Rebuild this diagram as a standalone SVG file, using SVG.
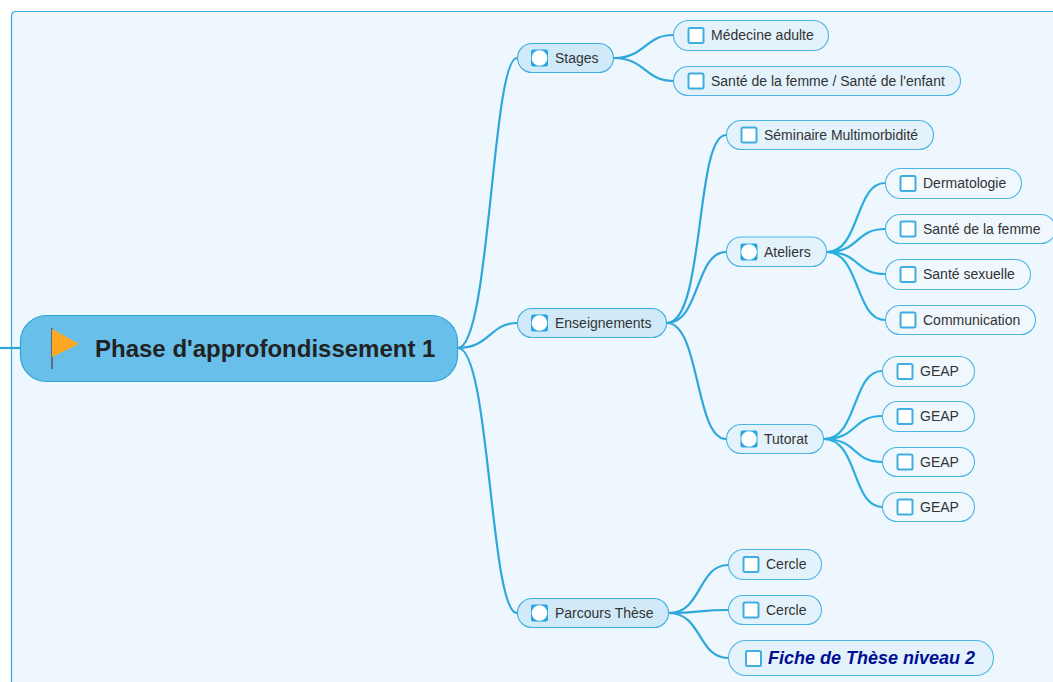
<svg xmlns="http://www.w3.org/2000/svg" width="1053" height="682" viewBox="0 0 1053 682">
<style>
text{font-family:"Liberation Sans",Arial,sans-serif;fill:#333;font-size:14px}
.c path{fill:none;stroke:#2EA6DA;stroke-width:2.2}
.c .d{stroke:#2BAEDF}
.n rect.b{fill:#E3F2FB;stroke:#4DB5E3;stroke-width:1.1}
.m rect.b{fill:#D0EAF9;stroke:#40AFE0;stroke-width:1.1}
.n.l rect.b{fill:#F0F8FE}
.box{fill:#fff;stroke:#3FAEE0;stroke-width:2}
.tsk{fill:#29A6E0}
</style>
<defs>
<g id="chk"><rect class="box" x="1" y="1" width="15" height="15" rx="1.5"/></g>
<g id="rnd"><rect class="tsk" x="0" y="0" width="17" height="17" rx="2"/><circle cx="8.5" cy="8.500" r="7.800" fill="#fff"/></g>
</defs>
<rect width="1053" height="682" fill="#fff"/>
<path d="M1053 12H16Q12 12 12 16V682H1053Z" fill="#EEF7FE"/>
<path d="M1053 11.500H16Q11.500 11.500 11.500 16V682" fill="none" stroke="#3BA6D8" stroke-width="1.200"/>
<g class="c" id="connectors">
<path d="M0 348H21"/>
<path d="M458 348C490 348 492 58 517 58"/>
<path d="M458 348C490 348 490 323 517 323"/>
<path d="M458 348C490 348 490 613 517 613"/>
<path d="M614 58C645 58 645 35 673 35"/>
<path d="M614 58C645 58 645 81 673 81"/>
<path d="M667 323C705 323 695 135 726 135"/>
<path d="M667 323C700 323 695 252 726 252"/>
<path d="M667 323C700 323 695 439 726 439"/>
<path class="d" d="M827 252C860 252 855 183 885 183"/>
<path class="d" d="M827 252C860 252 855 229 885 229"/>
<path class="d" d="M827 252C860 252 855 274 885 274"/>
<path class="d" d="M827 252C860 252 855 320 885 320"/>
<path class="d" d="M824 439C858 439 852 371 882 371"/>
<path class="d" d="M824 439C858 439 852 416 882 416"/>
<path class="d" d="M824 439C858 439 852 462 882 462"/>
<path class="d" d="M824 439C858 439 852 507 882 507"/>
<path d="M669 613C702 613 698 565 728 565"/>
<path d="M669 613C702 613 698 610 728 610"/>
<path d="M669 613C702 613 698 658 728 658"/>
</g>
<g id="root"><rect x="20.500" y="315.500" width="437" height="66" rx="26" fill="#68C0EA" stroke="#2FA3DA" stroke-width="1.200"/>
<path d="M52 328V369" stroke="#555" stroke-width="1.500" fill="none"/><path d="M52 329L79 344L52 357Z" fill="#FFA622"/>
<text x="95" y="357" style="font-size:24px;font-weight:bold;fill:#222">Phase d'approfondissement 1</text></g>
<g id="n1" class="m"><rect class="b" x="517.500" y="43.500" width="96" height="29" rx="14.500"/><use href="#rnd" x="531" y="49.500"/><text x="555" y="63">Stages</text></g>
<g id="n2" class="m"><rect class="b" x="517.500" y="308.500" width="149" height="29" rx="14.500"/><use href="#rnd" x="531" y="314.500"/><text x="555" y="328">Enseignements</text></g>
<g id="n3" class="m"><rect class="b" x="517.500" y="598.500" width="151" height="29" rx="14.500"/><use href="#rnd" x="531" y="604.500"/><text x="555" y="618">Parcours Thèse</text></g>
<g id="n4" class="n"><rect class="b" x="673.500" y="20.500" width="155" height="30" rx="15"/><use href="#chk" x="687.500" y="27"/><text x="711" y="40">Médecine adulte</text></g>
<g id="n5" class="n"><rect class="b" x="673.500" y="66.500" width="287" height="29" rx="14.500"/><use href="#chk" x="687.500" y="72.500"/><text x="711" y="86">Santé de la femme / Santé de l'enfant</text></g>
<g id="n6" class="n"><rect class="b" x="726.500" y="120.500" width="207" height="29" rx="14.500"/><use href="#chk" x="740.500" y="126.500"/><text x="764" y="140">Séminaire Multimorbidité</text></g>
<g id="n7" class="n"><rect class="b" x="726.500" y="237" width="100" height="29.500" rx="14.500"/><use href="#rnd" x="740.500" y="243.500"/><text x="764" y="257">Ateliers</text></g>
<g id="n8" class="n"><rect class="b" x="726.500" y="424.500" width="97" height="29" rx="14.500"/><use href="#rnd" x="740.500" y="430.500"/><text x="764" y="444">Tutorat</text></g>
<g id="n9" class="n l"><rect class="b" x="885.500" y="168.500" width="136" height="30" rx="15"/><use href="#chk" x="899.500" y="175"/><text x="923" y="188">Dermatologie</text></g>
<g id="n10" class="n l"><rect class="b" x="885.500" y="214.500" width="170" height="29" rx="14.500"/><use href="#chk" x="899.500" y="220.500"/><text x="923" y="234">Santé de la femme</text></g>
<g id="n11" class="n l"><rect class="b" x="885.500" y="259.500" width="145" height="30" rx="15"/><use href="#chk" x="899.500" y="266"/><text x="923" y="279">Santé sexuelle</text></g>
<g id="n12" class="n l"><rect class="b" x="885.500" y="305.500" width="150" height="29" rx="14.500"/><use href="#chk" x="899.500" y="311.500"/><text x="923" y="325">Communication</text></g>
<g id="n13" class="n l"><rect class="b" x="882.500" y="356.500" width="92" height="30" rx="15"/><use href="#chk" x="896.500" y="363"/><text x="920" y="376">GEAP</text></g>
<g id="n14" class="n l"><rect class="b" x="882.500" y="401.500" width="92" height="30" rx="15"/><use href="#chk" x="896.500" y="408"/><text x="920" y="421">GEAP</text></g>
<g id="n15" class="n l"><rect class="b" x="882.500" y="447.500" width="92" height="29" rx="14.500"/><use href="#chk" x="896.500" y="453.500"/><text x="920" y="467">GEAP</text></g>
<g id="n16" class="n l"><rect class="b" x="882.500" y="492.500" width="92" height="29" rx="14.500"/><use href="#chk" x="896.500" y="498.500"/><text x="920" y="512">GEAP</text></g>
<g id="n17" class="n"><rect class="b" x="728.500" y="549.500" width="93" height="30" rx="15"/><use href="#chk" x="742.500" y="556"/><text x="766" y="569">Cercle</text></g>
<g id="n18" class="n"><rect class="b" x="728.500" y="595.500" width="93" height="29" rx="14.500"/><use href="#chk" x="742.500" y="601.500"/><text x="766" y="615">Cercle</text></g>
<g id="n19" class="n"><rect class="b" x="728.500" y="640.500" width="265" height="35" rx="17.500"/><use href="#chk" x="745" y="650"/><text x="768" y="664" style="font-size:18px;font-weight:bold;font-style:italic;fill:#000E94">Fiche de Thèse niveau 2</text></g>
</svg>
